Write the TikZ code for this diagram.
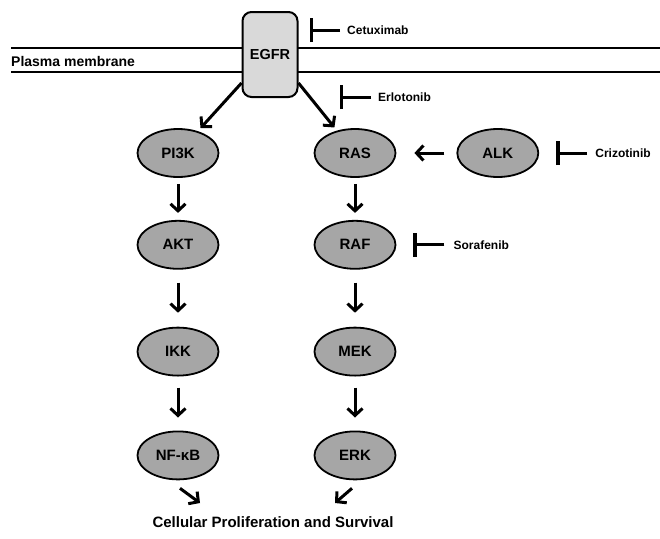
\documentclass[tikz,border=0pt]{standalone}
\usepackage{fontspec}
\setmainfont{Liberation Sans}
\definecolor{ProteinGray}{HTML}{A6A6A6}
\definecolor{ReceptorGray}{HTML}{D9D9D9}
\usetikzlibrary{arrows.meta,positioning,calc,shapes.geometric}

\tikzset{
  protein/.style={ellipse, draw, line width=1.8pt, fill=ProteinGray,
    minimum width=81pt, minimum height=48pt, inner sep=0pt,
    font=\fontsize{15}{18}\selectfont\bfseries},
  receptor/.style={rectangle, draw, line width=2pt, fill=ReceptorGray,
    rounded corners=9pt, minimum width=55pt, minimum height=85pt,
    inner sep=0pt, font=\fontsize{14.5}{17}\selectfont\bfseries},
  drug/.style={inner sep=0pt, font=\fontsize{12}{14}\selectfont\bfseries},
  act/.style={line width=3pt, -{Straight Barb[length=7pt,width=15pt]}},
  inhib/.style={line width=3pt, shorten <=7pt,
    -{Bar[width=24pt,line width=3.4pt]}},
  membrane line/.style={line width=2.8pt}
}

\begin{document}
\begin{tikzpicture}[x=1pt,y=-1pt]
  \useasboundingbox (0,0) rectangle (660,538);

  % membrane
  \draw[membrane line] (11,48) -- (660,48);
  \draw[membrane line] (11,72) -- (660,72);
  \node[anchor=west, inner sep=0pt, font=\fontsize{14}{17}\selectfont\bfseries]
    (membrane) at (11,61) {Plasma membrane};

  \node[receptor] (egfr) at (270,54.5) {EGFR};

  % PI3K branch
  \node[protein] (pik) at (178,153) {PI3K};
  \node[protein, below=42pt of pik] (akt) {AKT};
  \node[protein, below=57pt of akt] (ikk) {IKK};
  \node[protein, below=54pt of ikk] (nfkb) {NF-κB};

  % RAS branch
  \node[protein] (ras) at (355,153) {RAS};
  \node[protein, below=42pt of ras] (raf) {RAF};
  \node[protein, below=57pt of raf] (mek) {MEK};
  \node[protein, below=54pt of mek] (erk) {ERK};
  \node[protein, right=60pt of ras] (alk) {ALK};

  \node[font=\fontsize{15}{18}\selectfont\bfseries] (outcome) at (273,522)
    {Cellular Proliferation and Survival};

  % inhibitors
  \coordinate (cetbar) at (310,30);
  \node[drug, anchor=west] (cetux) at (347,30) {Cetuximab};
  \coordinate (erlbar) at (340,97);
  \node[drug, anchor=west] (erlot) at (378,97) {Erlotonib};
  \coordinate[right=17pt of alk] (crizbar);
  \node[drug, right=39pt of crizbar] (criz) {Crizotinib};
  \coordinate[right=17pt of raf] (sorbar);
  \node[drug, right=40pt of sorbar] (soraf) {Sorafenib};

  \draw[inhib] (cetux) -- (cetbar);
  \draw[inhib] (erlot) -- (erlbar);
  \draw[inhib, shorten <=8pt] (criz) -- (crizbar);
  \draw[inhib, shorten <=9pt] (soraf) -- (sorbar);

  % activation arrows
  \draw[act, shorten >=4pt] (egfr.-135) -- (pik);
  \draw[act, shorten >=4pt] (egfr.-45) -- (ras);
  \draw[act, shorten <=12pt, shorten >=18pt] (alk) -- (ras);

  \draw[act, shorten <=6pt, shorten >=7pt] (pik) -- (akt);
  \draw[act, shorten <=13pt, shorten >=14pt] (akt) -- (ikk);
  \draw[act, shorten <=11pt, shorten >=13pt] (ikk) -- (nfkb);
  \draw[act, shorten <=6pt, shorten >=7pt] (ras) -- (raf);
  \draw[act, shorten <=13pt, shorten >=14pt] (raf) -- (mek);
  \draw[act, shorten <=11pt, shorten >=13pt] (mek) -- (erk);

  \coordinate (nfend) at (200,503);
  \coordinate (erkend) at (335,503);
  \draw[act] ([shift={(2pt,-8pt)}]nfkb.south) -- (nfend);
  \draw[act] ([shift={(-3pt,-8pt)}]erk.south) -- (erkend);
\end{tikzpicture}
\end{document}
